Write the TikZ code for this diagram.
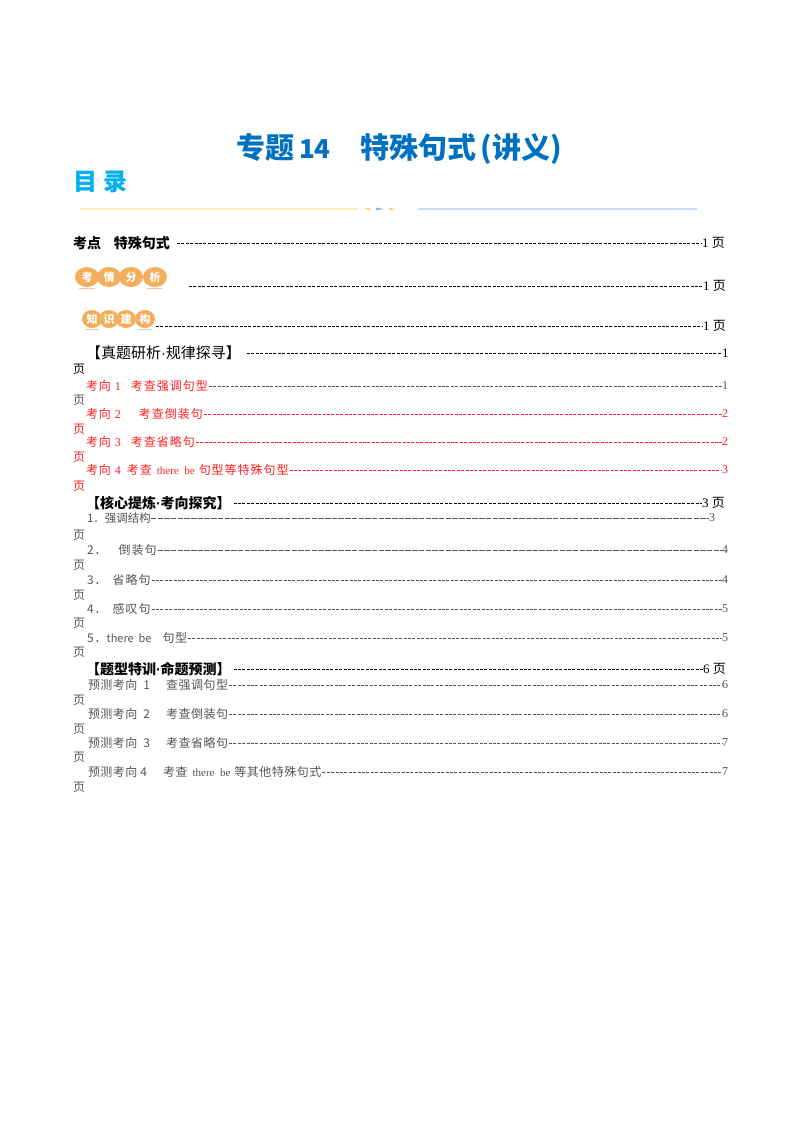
\documentclass[tikz,border=0pt]{standalone}
\usepackage{fontspec}
\setmainfont{Liberation Serif}
\newfontfamily\cjk{Noto Sans CJK SC}
\newfontfamily\cjkwide[LetterSpace=8]{Noto Sans CJK SC}
\newfontfamily\cjkmid[LetterSpace=4]{Noto Sans CJK SC}
\newfontfamily\dotfont{Liberation Sans}
\usetikzlibrary{positioning,shapes.geometric}
\definecolor{titleblue}{HTML}{0070C0}
\definecolor{mulublue}{HTML}{00B0F0}
\definecolor{badgeorange}{HTML}{F2AE5C}
\definecolor{badgeline}{HTML}{E6C9A6}
\definecolor{grayink}{HTML}{555555}
\definecolor{redink}{HTML}{FF2020}
\definecolor{paleyellow}{HTML}{FFEFBF}
\definecolor{paleblue}{HTML}{C8DDF7}
\definecolor{tipyellow}{HTML}{FBD27A}
\definecolor{tipblue}{HTML}{8DB4EE}
\tikzset{
  title/.style = {font=\cjk\bfseries\fontsize{29}{29}\selectfont, text=titleblue, anchor=base west},
  heading/.style = {font=\cjk\bfseries\fontsize{14}{14}\selectfont, text=black},
  subhead/.style = {font=\cjkwide\fontsize{12}{12}\selectfont},
  pagenum/.style = {font=\fontsize{13}{13}\selectfont},
  leader/.style = {dash pattern=on 3pt off 1.4pt, line width=0.7pt},
  leaderlong/.style = {dash pattern=on 5.5pt off 1.2pt, line width=0.6pt},
  badge/.style = {ellipse, fill=badgeorange, inner sep=0pt, anchor=center,
    minimum width=24pt, minimum height=20pt, text=white, font=\cjk\bfseries\fontsize{11}{11}\selectfont},
  badgesmall/.style = {badge, minimum width=20pt, minimum height=18pt},
}
\begin{document}
\begin{tikzpicture}[x=1pt, y=1pt,
  every node/.style = {inner sep=0pt, outer sep=0pt, anchor=west}]
  \useasboundingbox[fill=white] (0,0) rectangle (800,-1132);
  % title
  \node[title] (title1) at (236,-158) {专题\hspace{5pt}{\fontsize{26}{26}\selectfont 14}};
  \node[title] (title2) at (360,-158) {特殊句式\,(讲义)};
  \node[font=\cjk\bfseries\fontsize{24}{24}\selectfont, text=mulublue] (mulu) at (73,-182) {目\hspace{6pt}录};
  % divider
  \coordinate (ya) at (80,-209);
  \coordinate (yb) at (358,-209);
  \coordinate (ba) at (418,-209);
  \coordinate (bb) at (697,-209);
  \draw[color=paleyellow, line width=1.2pt] (ya) -- (yb);
  \draw[color=paleblue, line width=1.2pt] (ba) -- (bb);
  \fill[tipyellow] (364,-209) -- (370,-207.5) -- (370,-210.5) -- cycle;
  \fill[tipblue] (376,-207.5) -- (384,-209) -- (376,-210.5) -- cycle;
  \fill[tipyellow] (395,-209) -- (389,-207.5) -- (389,-210.5) -- cycle;
  % level one
  \node[heading] (kd) at (73,-243) {考点\hspace{13pt}特殊句式};
  \node[pagenum] (kdp) at (702,-243) {1 \cjk 页};
  \draw[leader] ([xshift=7pt]kd.east) -- (kdp.west);
  \foreach \name/\cx/\txt in {a/87/考, b/109/情, c/131/分, d/155/析}
    \node[badge] (kq\name) at (\cx,-277) {\txt};
  \foreach \name/\cx/\txt in {a/92/知, b/109/识, c/126/建, d/145/构}
    \node[badgesmall] (zs\name) at (\cx,-319) {\txt};
  \draw[badgeline, line width=1pt] ([yshift=-1pt]kqa.south) ++(-8,0) -- ++(16,0);
  \draw[badgeline, line width=1pt] ([yshift=-1pt]kqd.south) ++(-8,0) -- ++(16,0);
  \draw[badgeline, line width=1pt] ([yshift=-1pt]zsa.south) ++(-7,0) -- ++(14,0);
  \draw[badgeline, line width=1pt] ([yshift=-1pt]zsd.south) ++(-7,0) -- ++(14,0);
  \coordinate (kqs) at (189,-286);
  \node[pagenum] (kqp) at (703,-286) {1 \cjk 页};
  \draw[leader, line width=0.6pt] (kqs) -- (kqp.west);
  \coordinate (zss) at (156,-326);
  \node[pagenum] (zsp) at (703,-326) {1 \cjk 页};
  \draw[leader, line width=0.6pt] (zss) -- (zsp.west);
  % rows with the page word wrapped to the left margin
  \foreach \row/\ty/\wy/\tx/\col/\lcol/\ls/\txt/\pg in {
    a/-386/-400/86/redink/grayink/leader/{考向\hspace{4pt}{\rmfamily 1}\hspace{10pt}考查强调句型}/1,
    b/-414/-429/86/redink/redink/leader/{考向\hspace{4pt}{\rmfamily 2}\hspace{18pt}考查倒装句}/2,
    c/-442/-457/86/redink/redink/leader/{考向\hspace{4pt}{\rmfamily 3}\hspace{10pt}考查省略句}/2,
    d/-470/-486/86/redink/redink/leader/{考向\hspace{4pt}{\rmfamily 4}\hspace{6pt}考查\hspace{5pt}{\rmfamily\fontsize{11}{11}\selectfont there\ \ be}\hspace{4pt}句型等特殊句型}/3,
    e/-550/-565/87/grayink/grayink/leaderlong/{2．\hspace{12pt}倒装句}/4,
    f/-580/-595/87/grayink/grayink/leader/{3．\hspace{6pt}省略句}/4,
    g/-609/-623/87/grayink/grayink/leader/{4．\hspace{6pt}感叹句}/5,
    h/-638/-652/87/grayink/grayink/leader/{5．{\cjk\fontsize{11}{11}\selectfont there\ \ be}\hspace{11pt}{\cjkmid 句型}}/5,
    i/-685/-700/88/grayink/grayink/leader/{\cjkmid 预测考向\hspace{6pt}1\hspace{16pt}查强调句型}/6,
    j/-714/-729/88/grayink/grayink/leader/{\cjkmid 预测考向\hspace{6pt}2\hspace{16pt}考查倒装句}/6,
    k/-743/-757/88/grayink/grayink/leader/{\cjkmid 预测考向\hspace{6pt}3\hspace{16pt}考查省略句}/7,
    l/-772/-787/88/grayink/grayink/leader/{\cjkmid 预测考向\hspace{3pt}4\hspace{16pt}考查\hspace{5pt}{\rmfamily\fontsize{11}{11}\selectfont there\ \ be}\hspace{4pt}等其他特殊句式}/7} {
    \node[subhead, text=\col] (row\row) at (\tx,\ty) {\txt};
    \node[font=\fontsize{12}{12}\selectfont, text=\lcol] (num\row) at (722,\ty) {\pg};
    \node[font=\cjk\fontsize{12}{12}\selectfont, text=\lcol] (ye\row) at (73,\wy) {页};
    \draw[\ls, color=\lcol, line width=0.5pt] ([xshift=1pt]row\row.east) -- (num\row.west);
  }
  % level two
  \node[heading, font=\cjk\fontsize{15}{15}\selectfont] (zt) at (86,-353) {【真题研析{\dotfont ·}规律探寻】};
  \node[pagenum] (ztp) at (722,-353) {1};
  \node[font=\cjk\fontsize{12}{12}\selectfont] (zty) at (73,-369) {页};
  \draw[leader, line width=0.6pt] ([xshift=6pt]zt.east) -- (ztp.west);
  \node[heading] (hx) at (86,-503) {【核心提炼{\dotfont ·}考向探究】};
  \node[pagenum] (hxp) at (702,-503) {3 \cjk 页};
  \draw[leader] ([xshift=3pt]hx.east) -- (hxp.west);
  \node[font=\cjk\fontsize{11.5}{11.5}\selectfont, text=grayink] (qd) at (87,-518) {1．强调结构};
  \node[font=\fontsize{12}{12}\selectfont, text=grayink] (qdp) at (709,-518) {3};
  \node[font=\cjk\fontsize{12}{12}\selectfont, text=grayink] (qdy) at (73,-535) {页};
  \draw[leaderlong, color=grayink] (qd.east) -- (qdp.west);
  \node[heading] (tx) at (86,-669) {【题型特训{\dotfont ·}命题预测】};
  \node[pagenum] (txp) at (703,-669) {6 \cjk 页};
  \draw[leader, line width=0.6pt] ([xshift=3pt]tx.east) -- (txp.west);
\end{tikzpicture}
\end{document}
